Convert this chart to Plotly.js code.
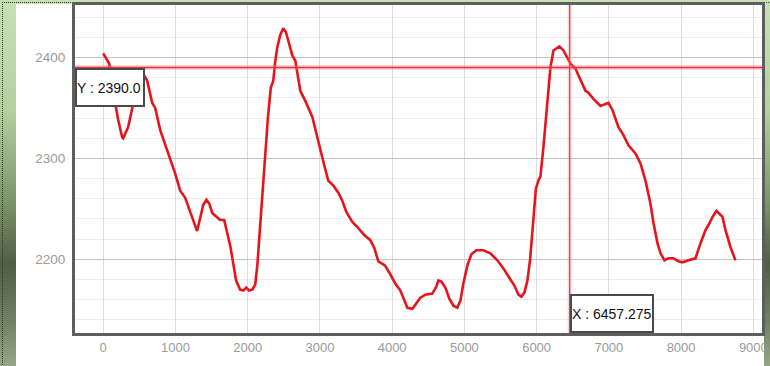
<!DOCTYPE html>
<html>
<head>
<meta charset="utf-8">
<script src="https://cdn.plot.ly/plotly-3.0.1.min.js"></script>
<style>
  html, body { margin: 0; padding: 0; }
  #frame {
    position: relative; width: 770px; height: 366px; overflow: hidden;
    background: linear-gradient(to bottom, #c9e0b5 0%, #b7d0a0 30%, #7d9468 55%, #4f5e46 72%, #6f8262 88%, #93a785 100%);
  }
  #dots { position: absolute; left: 2px; top: 2px; width: 780px; height: 400px;
    border-top: 1px dotted #2a3a20; border-left: 1px dotted #2a3a20; }
  #panel { position: absolute; left: 16px; top: 4px; width: 748px; height: 362px; background: #ffffff; }
  #chart { position: absolute; left: 0; top: 0; width: 770px; height: 366px; }
</style>
</head>
<body>
<div id="frame">
  <div id="dots"></div>
  <div id="panel"></div>
  <div id="chart"></div>
</div>
<script>
const xValues = [0, 83, 152, 208, 263, 277, 346, 415, 485, 554, 609, 679, 720, 790, 886, 997,
  1066, 1136, 1190, 1245, 1300, 1340, 1385, 1430, 1470, 1510, 1565, 1620, 1675, 1715, 1760, 1800, 1840, 1895, 1940, 1980, 2020, 2065, 2105, 2135,
  2165, 2202, 2240, 2280, 2320, 2355, 2380, 2410, 2450, 2493, 2530, 2562, 2618, 2659, 2729, 2798, 2895, 2964,
  3006, 3061, 3116, 3186, 3255, 3310, 3366, 3449, 3532, 3615, 3698, 3754, 3809, 3900, 3960,
  4044, 4114, 4169, 4211, 4280, 4335, 4391, 4460, 4557, 4612, 4640, 4681, 4737, 4792, 4848, 4903, 4945, 4986,
  5042, 5097, 5166, 5263, 5360, 5457, 5540, 5637, 5693, 5748, 5789, 5831, 5873, 5910, 5950, 5990, 6030, 6053,
  6094, 6150, 6191, 6233, 6316, 6371, 6468, 6537, 6607, 6676, 6717, 6787, 6884, 6994, 7050, 7133, 7202, 7271, 7368,
  7438, 7507, 7576, 7618, 7673, 7715, 7770, 7825, 7895, 7964, 8019, 8102, 8199, 8269, 8338, 8380, 8435, 8490, 8573, 8615, 8684, 8753];
const yValues = [2404, 2394, 2360, 2338, 2321, 2320, 2331, 2354, 2372, 2384, 2377, 2355, 2350, 2328, 2308, 2285,
  2268, 2261, 2250, 2238, 2228, 2240, 2254, 2259, 2255, 2246, 2242, 2239, 2239, 2228, 2213, 2196, 2179, 2170, 2169, 2172, 2169, 2170, 2175, 2195,
  2225, 2260, 2300, 2340, 2370, 2377, 2395, 2410, 2422, 2429, 2425, 2417, 2402, 2397, 2367, 2357, 2341, 2321,
  2308, 2293, 2278, 2273, 2266, 2258, 2247, 2237, 2231, 2224, 2219, 2211, 2198, 2194, 2187,
  2176, 2169, 2159, 2152, 2151, 2156, 2162, 2165, 2166, 2173, 2179, 2178, 2172, 2161, 2154, 2152, 2159, 2176,
  2194, 2205, 2209, 2209, 2206, 2199, 2191, 2180, 2174, 2165, 2163, 2167, 2179, 2200, 2240, 2270, 2279, 2282,
  2311, 2354, 2390, 2407, 2411, 2407, 2394, 2389, 2377, 2367, 2365, 2359, 2352, 2355, 2348, 2331, 2323, 2313, 2305,
  2295, 2278, 2255, 2236, 2216, 2206, 2199, 2201, 2201, 2198, 2197, 2199, 2201, 2216, 2229, 2234, 2242, 2248, 2242, 2229, 2212, 2199];
const xTickVals = [0, 1000, 2000, 3000, 4000, 5000, 6000, 7000, 8000, 9000];
const yTickVals = [2200, 2300, 2400];
const cursorX = 6457.275;
const cursorY = 2390.0;
const cursorXLabel = 'X : 6457.275';
const cursorYLabel = 'Y : 2390.0';

const narrow = '"Liberation Sans", Arial, sans-serif';

const trace = {
  x: xValues, y: yValues, type: 'scatter', mode: 'lines',
  line: { color: '#e8141c', width: 2.6, shape: 'linear' },
  hoverinfo: 'skip'
};

const layout = {
  width: 770, height: 366,
  margin: { l: 75, r: 8, t: 5, b: 33, pad: 0 },
  paper_bgcolor: 'rgba(0,0,0,0)',
  plot_bgcolor: '#ffffff',
  showlegend: false,
  xaxis: {
    range: [-390, 9120], tickvals: xTickVals, ticks: '',
    showgrid: true, gridcolor: '#dddddd', gridwidth: 1, zeroline: false,
    showline: true, linecolor: '#5e5e5e', linewidth: 3, mirror: true,
    ticklabeloverflow: 'allow',
    tickfont: { family: narrow, size: 13, color: '#9a9a9a' }
  },
  yaxis: {
    range: [2127, 2452], tickvals: yTickVals, ticks: '',
    showgrid: true, gridcolor: '#c4c4c4', gridwidth: 1, zeroline: false,
    showline: true, linecolor: '#5e5e5e', linewidth: 3, mirror: true,
    ticklabelstandoff: 4,
    minor: { dtick: 20, showgrid: true, gridcolor: '#eeeeee', gridwidth: 1, ticks: '' },
    tickfont: { family: narrow, size: 13.5, color: '#9a9a9a' }
  },
  shapes: [
    { type: 'line', xref: 'paper', yref: 'y', x0: 0, x1: 1, y0: cursorY, y1: cursorY,
      line: { color: 'rgba(240,120,130,0.35)', width: 5 } },
    { type: 'line', xref: 'paper', yref: 'y', x0: 0, x1: 1, y0: cursorY, y1: cursorY,
      line: { color: '#e0303a', width: 1.5 } },
    { type: 'line', xref: 'x', yref: 'paper', x0: cursorX, x1: cursorX, y0: 0, y1: 1,
      line: { color: 'rgba(240,120,130,0.3)', width: 4 } },
    { type: 'line', xref: 'x', yref: 'paper', x0: cursorX, x1: cursorX, y0: 0, y1: 1,
      line: { color: '#e0404a', width: 1.2 } }
  ],
  annotations: [
    { xref: 'paper', yref: 'y', x: 0, y: cursorY, xanchor: 'left', yanchor: 'top',
      text: cursorYLabel, showarrow: false, align: 'left', valign: 'middle',
      width: 66, height: 35, bgcolor: '#ffffff', bordercolor: '#4a4a4a', borderwidth: 2, borderpad: 0,
      font: { family: narrow, size: 14, color: '#111111' } },
    { xref: 'x', yref: 'paper', x: cursorX, y: 0, xanchor: 'left', yanchor: 'bottom',
      text: cursorXLabel, showarrow: false, align: 'left', valign: 'middle',
      width: 80, height: 35, bgcolor: '#ffffff', bordercolor: '#4a4a4a', borderwidth: 2, borderpad: 0,
      font: { family: narrow, size: 14, color: '#111111' } }
  ]
};

Plotly.newPlot('chart', [trace], layout, { staticPlot: true, displayModeBar: false });
</script>
</body>
</html>
